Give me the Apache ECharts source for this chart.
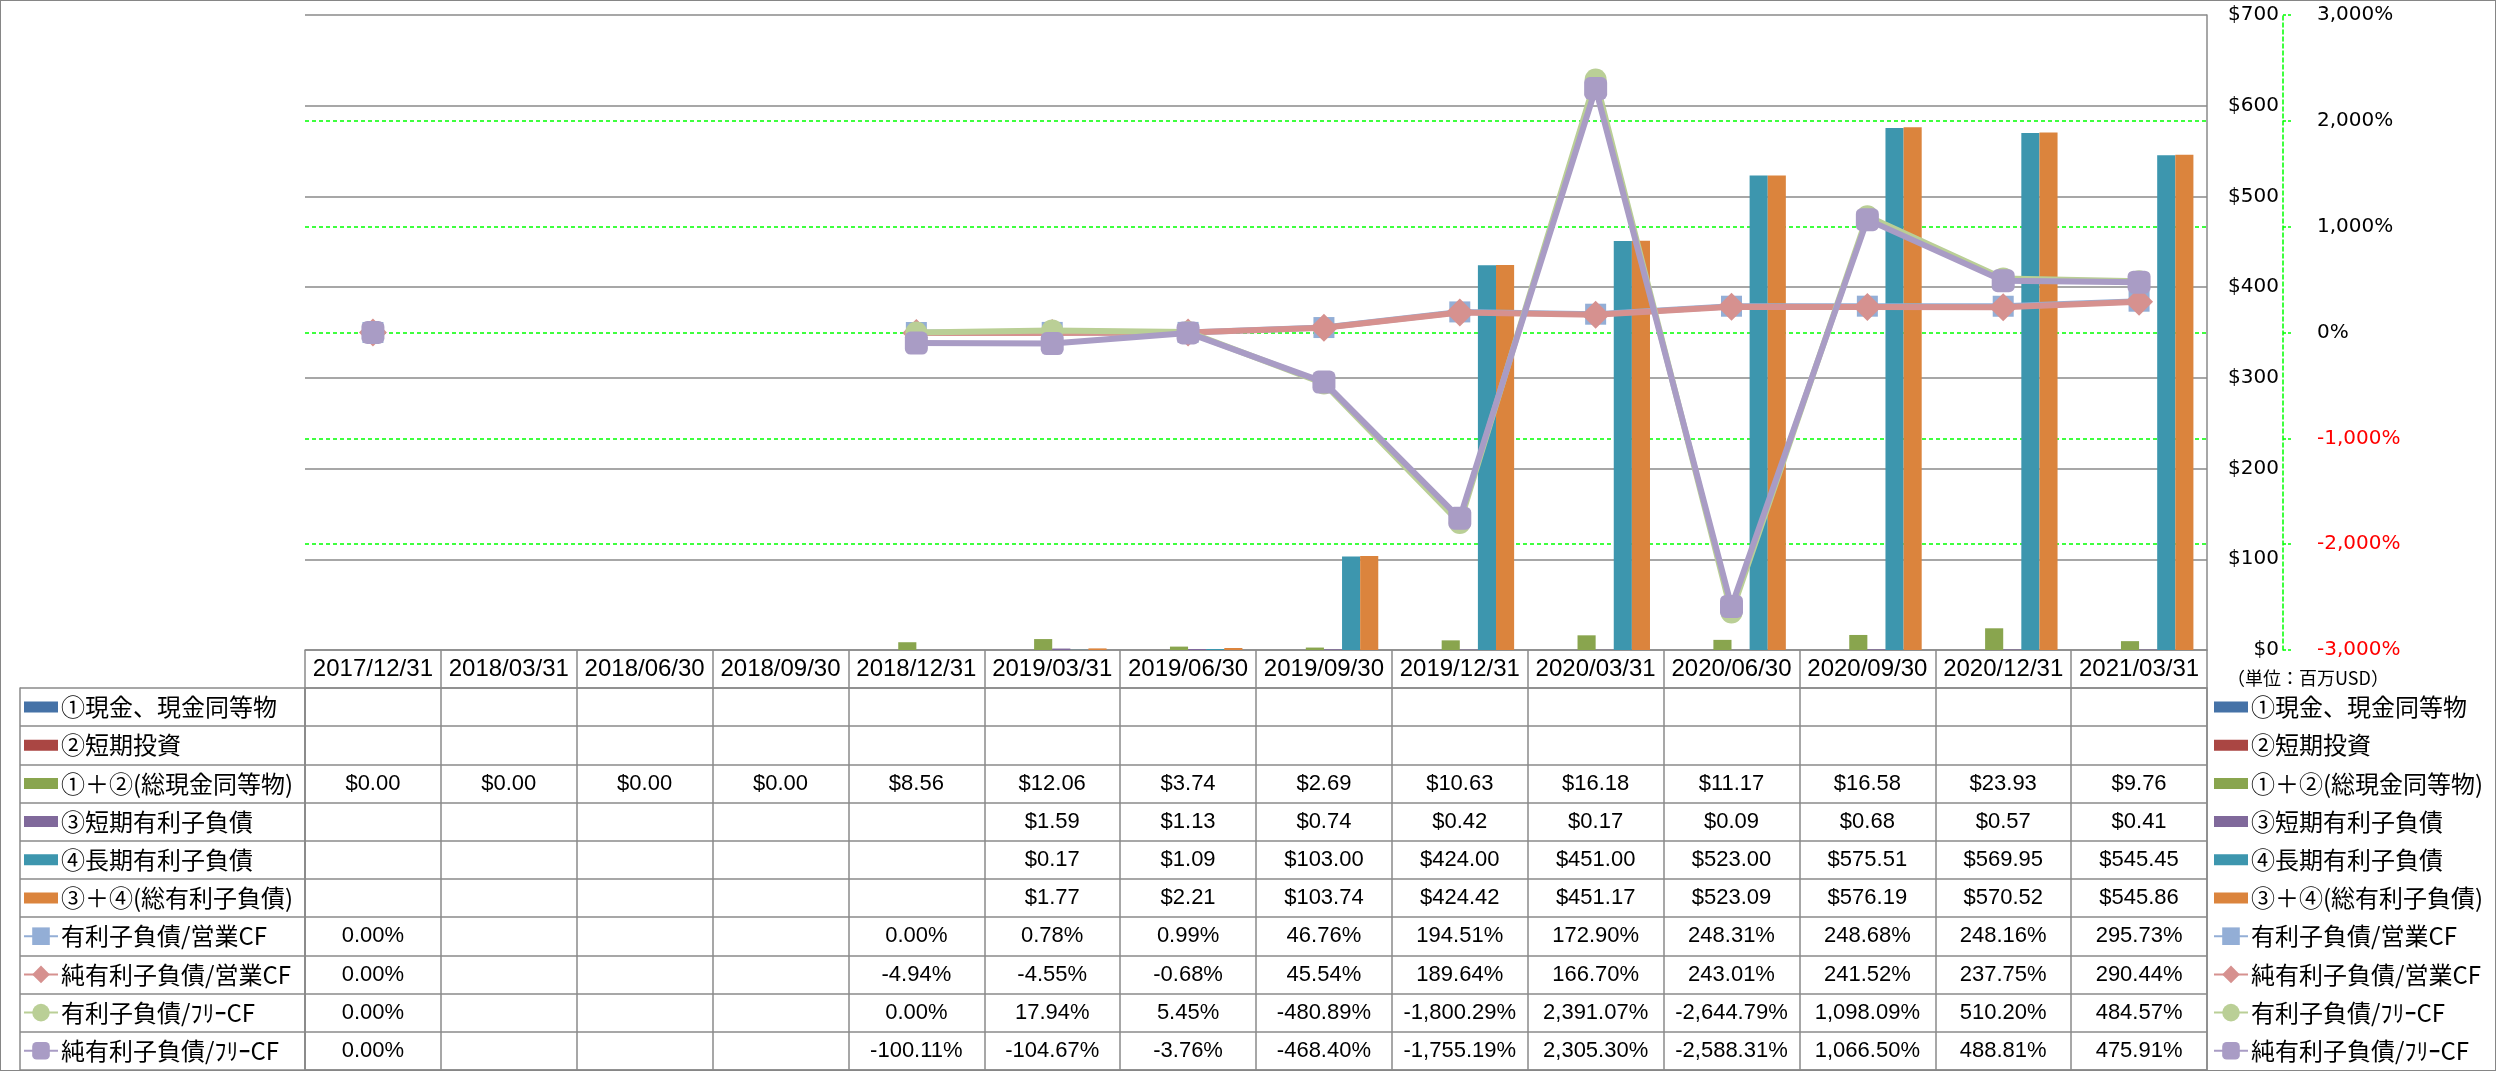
<!DOCTYPE html>
<html><head><meta charset="utf-8">
<script src="https://cdn.jsdelivr.net/npm/echarts@6/dist/echarts.min.js"></script>
<style>
html,body{margin:0;padding:0;background:#fff;}
#c{position:absolute;left:0;top:0;width:2496px;height:1071px;}
#frame{position:absolute;left:0;top:0;width:2496px;height:1071px;box-sizing:border-box;border:1px solid #868686;pointer-events:none;}
</style>
</head><body><div id="c"></div><div id="frame"></div>
<script>
// ---- data ----
const categories = ['2017/12/31','2018/03/31','2018/06/30','2018/09/30','2018/12/31','2019/03/31','2019/06/30','2019/09/30','2019/12/31','2020/03/31','2020/06/30','2020/09/30','2020/12/31','2021/03/31'];
const cash       = [null,null,null,null,null,null,null,null,null,null,null,null,null,null];
const shortInv   = [null,null,null,null,null,null,null,null,null,null,null,null,null,null];
const totalCash  = [0.00,0.00,0.00,0.00,8.56,12.06,3.74,2.69,10.63,16.18,11.17,16.58,23.93,9.76];
const shortDebt  = [null,null,null,null,null,1.59,1.13,0.74,0.42,0.17,0.09,0.68,0.57,0.41];
const longDebt   = [null,null,null,null,null,0.17,1.09,103.00,424.00,451.00,523.00,575.51,569.95,545.45];
const totalDebt  = [null,null,null,null,null,1.77,2.21,103.74,424.42,451.17,523.09,576.19,570.52,545.86];
const debtOpCF    = [0.00,null,null,null,0.00,0.78,0.99,46.76,194.51,172.90,248.31,248.68,248.16,295.73];
const netDebtOpCF = [0.00,null,null,null,-4.94,-4.55,-0.68,45.54,189.64,166.70,243.01,241.52,237.75,290.44];
const debtFCF     = [0.00,null,null,null,0.00,17.94,5.45,-480.89,-1800.29,2391.07,-2644.79,1098.09,510.20,484.57];
const netDebtFCF  = [0.00,null,null,null,-100.11,-104.67,-3.76,-468.40,-1755.19,2305.30,-2588.31,1066.50,488.81,475.91];
const seriesNames = ['①現金、現金同等物','②短期投資','①＋②(総現金同等物)','③短期有利子負債','④長期有利子負債','③＋④(総有利子負債)','有利子負債/営業CF','純有利子負債/営業CF','有利子負債/ﾌﾘｰCF','純有利子負債/ﾌﾘｰCF'];
const usdAxis = {min:0, max:700, interval:100};
const pctAxis = {min:-3000, max:3000, interval:1000};
const unitLabel = '（単位：百万USD）';

// ---- styles ----
const barColors = ['#4572A7','#AA4643','#89A54E','#80699B','#3D96AE','#DB843D'];
const lineColors = ['#93AED6','#D6918F','#BACF96','#A99CC5'];
const lineSymbols = ['rect','diamond','circle','roundRect'];
const lineSymbolSizes = [21,28,22,23];
const grayLine = '#8A8A8A';
const green = '#00FF00';

const barData = [cash, shortInv, totalCash, shortDebt, longDebt, totalDebt];
const lineData = [debtOpCF, netDebtOpCF, debtFCF, netDebtFCF];
const tableRows = barData.concat(lineData);

function fmt2(v){ return v.toLocaleString('en-US',{minimumFractionDigits:2,maximumFractionDigits:2}); }
const cellData = [], cellTexts = [];
tableRows.forEach(function(row, ri){
  row.forEach(function(v, ci){
    if (v === null || v === undefined) return;
    cellData.push([ci, ri]);
    cellTexts.push(ri < 6 ? '$' + fmt2(v) : fmt2(v) + '%');
  });
});

const series = [];
barData.forEach(function(d, i){
  series.push({name: seriesNames[i], type:'bar', xAxisIndex:0, yAxisIndex:0, data:d,
    barGap:'0%', barCategoryGap:'20%', itemStyle:{color:barColors[i]}});
});
lineData.forEach(function(d, i){
  series.push({name: seriesNames[6+i], type:'line', xAxisIndex:0, yAxisIndex:1, data:d,
    symbol: lineSymbols[i], symbolSize: lineSymbolSizes[i], showSymbol:true, showAllSymbol:true,
    connectNulls:false, z:3+i,
    lineStyle:{width:6, color:lineColors[i]}, itemStyle:{color:lineColors[i]}});
});
series.push({type:'custom', xAxisIndex:1, yAxisIndex:2, data:cellData, silent:true, z:5,
  renderItem:function(params, api){
    const p = api.coord([api.value(0), api.value(1)]);
    return {type:'text', x:p[0], y:p[1], style:{text:cellTexts[params.dataIndex], fill:'#000',
      font:'22px "Liberation Sans", Arial, sans-serif', align:'center', verticalAlign:'middle',
      textAlign:'center', textVerticalAlign:'middle'}};
  }});

const barIcon = 'path://M0,0L0.01,0ZM0,5.5H34V16.5H0ZM0,22L0.01,22Z';
const legendData = seriesNames.map(function(n, i){ return i < 6 ? {name:n, icon:barIcon} : {name:n}; });
function legendAt(left){
  return {data:legendData, orient:'vertical', left:left, top:695, itemWidth:34, itemHeight:22,
    itemGap:14.2, selectedMode:false, padding:0,
    textStyle:{fontSize:24, lineHeight:24, fontFamily:'"Noto Sans CJK JP", sans-serif', color:'#000', padding:[0,0,0,-2]}};
}

const option = {
  animation:false,
  backgroundColor:'#fff',
  title:{text:unitLabel, left:2222, top:664, padding:5,
    textStyle:{fontSize:18, fontWeight:'normal', fontFamily:'"Noto Sans CJK JP", sans-serif', color:'#000'}},
  legend:[legendAt(23), legendAt(2213)],
  grid:[
    {left:305, right:289, top:15, bottom:421, containLabel:false},
    {left:305, right:289, top:688, bottom:1, containLabel:false, show:true, borderColor:grayLine, borderWidth:1.5, backgroundColor:'transparent'}
  ],
  xAxis:[
    {type:'category', gridIndex:0, data:categories, position:'bottom', z:2,
      axisLine:{show:true, lineStyle:{color:grayLine, width:1.5}},
      axisTick:{show:true, alignWithLabel:false, length:38, lineStyle:{color:grayLine, width:1.5}},
      axisLabel:{interval:0, margin:7, fontSize:24, fontFamily:'"Liberation Sans", Arial, sans-serif', color:'#000'},
      splitLine:{show:false}},
    {type:'category', gridIndex:1, data:categories,
      axisLine:{show:false}, axisTick:{show:false}, axisLabel:{show:false},
      splitLine:{show:true, interval:0, lineStyle:{color:grayLine, width:1.5}}}
  ],
  yAxis:[
    {type:'value', gridIndex:0, position:'right', min:usdAxis.min, max:usdAxis.max, interval:usdAxis.interval, z:1,
      axisLine:{show:true, lineStyle:{color:grayLine, width:1.5}}, axisTick:{show:false},
      axisLabel:{align:'right', margin:72, fontSize:20, fontFamily:'"DejaVu Sans", sans-serif', color:'#000',
        showMinLabel:true, showMaxLabel:true, formatter:function(v){ return '$' + v; }},
      splitLine:{show:true, lineStyle:{color:grayLine, width:1.5}}},
    {type:'value', gridIndex:0, position:'right', offset:76, min:pctAxis.min, max:pctAxis.max, interval:pctAxis.interval, z:0,
      axisLine:{show:true, lineStyle:{color:green, width:1.5, type:[4,3]}},
      axisTick:{show:true, length:9, lineStyle:{color:green, width:1.5, type:[3,2]}},
      axisLabel:{margin:34, fontSize:20, fontFamily:'"DejaVu Sans", sans-serif', showMinLabel:true, showMaxLabel:true,
        color:function(v){ return Number(v) < 0 ? '#FF0000' : '#000'; },
        formatter:function(v){ return v.toLocaleString('en-US') + '%'; }},
      splitLine:{show:true, showMinLine:false, showMaxLine:false, lineStyle:{color:green, width:1.5, type:[4,3]}}},
    {type:'category', gridIndex:1, position:'left', inverse:true, data:seriesNames,
      axisLine:{show:true, lineStyle:{color:grayLine, width:1.5}},
      axisTick:{show:true, alignWithLabel:false, length:285, interval:0, lineStyle:{color:grayLine, width:1.5}},
      axisLabel:{show:false},
      splitLine:{show:true, interval:0, lineStyle:{color:grayLine, width:1.5}}},
    {type:'value', gridIndex:1, position:'left', offset:285, min:0, max:1,
      axisLine:{show:true, lineStyle:{color:grayLine, width:1.5}}, axisTick:{show:false}, axisLabel:{show:false}, splitLine:{show:false}}
  ],
  series:series
};
const chart = echarts.init(document.getElementById('c'), null, {renderer:'canvas'});
chart.setOption(option);
</script>
</body></html>
